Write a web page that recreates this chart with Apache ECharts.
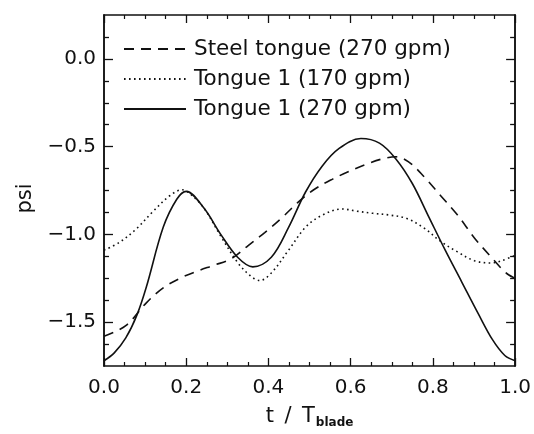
<!DOCTYPE html>
<html>
<head>
<meta charset="utf-8">
<script src="https://cdn.jsdelivr.net/npm/echarts@6/dist/echarts.min.js"></script>
<style>html,body{margin:0;padding:0;background:#fff;}#c{width:534px;height:434px;}</style>
</head>
<body>
<div id="c"></div>
<script>
// Tick values
var xTicks = [0.0, 0.2, 0.4, 0.6, 0.8, 1.0];
var yMajorTicks = [-1.5, -1.0, -0.5, 0.0];
var yMinorTicks = [0.125, -0.125, -0.25, -0.375, -0.625, -0.75, -0.875, -1.125, -1.25, -1.375, -1.625];

// Series names
var seriesNames = ['Steel tongue (270 gpm)', 'Tongue 1 (170 gpm)', 'Tongue 1 (270 gpm)'];

// Steel tongue (270 gpm) - dashed
var tSteel = [0.0, 0.053, 0.103, 0.144, 0.185, 0.226, 0.267, 0.309, 0.35, 0.391, 0.432, 0.473, 0.514, 0.556, 0.597, 0.638, 0.68, 0.71, 0.74, 0.778, 0.819, 0.86, 0.901, 0.942, 0.967, 0.984, 1.0];
var vSteel = [-1.58, -1.52, -1.39, -1.305, -1.25, -1.21, -1.176, -1.14, -1.065, -0.99, -0.907, -0.815, -0.74, -0.685, -0.64, -0.6, -0.568, -0.558, -0.585, -0.67, -0.78, -0.89, -1.02, -1.13, -1.195, -1.23, -1.25];

// Tongue 1 (170 gpm) - dotted
var t170 = [0.0, 0.037, 0.078, 0.119, 0.16, 0.19, 0.21, 0.243, 0.284, 0.325, 0.358, 0.379, 0.407, 0.449, 0.49, 0.531, 0.58, 0.613, 0.654, 0.695, 0.737, 0.778, 0.819, 0.86, 0.901, 0.942, 0.967, 1.0];
var v170 = [-1.09, -1.046, -0.97, -0.87, -0.78, -0.746, -0.77, -0.85, -1.01, -1.16, -1.24, -1.263, -1.22, -1.09, -0.96, -0.89, -0.855, -0.867, -0.88, -0.89, -0.91, -0.963, -1.04, -1.10, -1.15, -1.163, -1.15, -1.12];

// Tongue 1 (270 gpm) - solid
var t270 = [0.0, 0.025, 0.053, 0.08, 0.103, 0.144, 0.177, 0.2, 0.243, 0.284, 0.325, 0.362, 0.407, 0.449, 0.49, 0.531, 0.572, 0.625, 0.67, 0.71, 0.75, 0.79, 0.83, 0.87, 0.91, 0.945, 0.975, 1.0];
var v270 = [-1.72, -1.675, -1.59, -1.46, -1.30, -0.96, -0.80, -0.755, -0.85, -1.0, -1.13, -1.185, -1.13, -0.96, -0.76, -0.61, -0.51, -0.454, -0.48, -0.57, -0.71, -0.9, -1.09, -1.27, -1.45, -1.6, -1.69, -1.72];

function pairs(xs, ys) { return xs.map(function (x, i) { return [x, ys[i]]; }); }

var FONT = 'DejaVu Sans';
var INK = '#111';

function yFmt(v) {
  var a = Math.abs(v).toFixed(1);
  return v < -1e-9 ? '\u2212' + a : a;
}

function yAx(pos, ticks, len, labels) {
  return {
    type: 'value', position: pos, min: -1.75, max: 0.25,
    axisLine: { show: true, onZero: false, lineStyle: { color: INK, width: 1.5 } },
    axisTick: { show: true, inside: true, length: len, customValues: ticks, lineStyle: { color: INK, width: 1.3 } },
    axisLabel: labels ? { show: true, customValues: ticks, formatter: yFmt, fontFamily: FONT, fontSize: 20, color: INK, margin: 8 } : { show: false },
    splitLine: { show: false }
  };
}

function xAx(pos, labels) {
  var a = {
    type: 'value', position: pos, min: 0, max: 1, interval: 0.2,
    axisLine: { show: true, onZero: false, lineStyle: { color: INK, width: 1.5 } },
    axisTick: { show: true, inside: true, length: 8, lineStyle: { color: INK, width: 1.3 } },
    minorTick: { show: true, splitNumber: 4, length: 4, lineStyle: { color: INK, width: 1.2 } },
    axisLabel: labels ? { show: true, fontFamily: FONT, fontSize: 20, color: INK, margin: 12, formatter: function (v) { return v.toFixed(1); } } : { show: false },
    splitLine: { show: false }
  };
  if (labels) {
    a.name = '{a|t\u2002/\u2002T}{b|blade}';
    a.nameLocation = 'middle';
    a.nameGap = 39;
    a.nameTextStyle = {
      rich: {
        a: { fontFamily: FONT, fontSize: 21, color: INK },
        b: { fontFamily: FONT, fontSize: 12, fontWeight: 'bold', color: INK, padding: [12, 0, 0, 1] }
      }
    };
  }
  return a;
}

var chart = echarts.init(document.getElementById('c'), null, { renderer: 'canvas' });
chart.setOption({
  animation: false,
  backgroundColor: '#fff',
  grid: { left: 104, right: 18, top: 15, bottom: 62, containLabel: false },
  legend: {
    orient: 'vertical', left: 118, top: 33,
    itemWidth: 62, itemHeight: 12, itemGap: 8,
    itemStyle: { opacity: 0, borderWidth: 0 },
    textStyle: { fontFamily: FONT, fontSize: 21.5, color: INK, padding: [0, 0, 0, 3] },
    data: seriesNames
  },
  xAxis: [xAx('bottom', true), xAx('top', false)],
  yAxis: [
    (function () { var a = yAx('left', yMajorTicks, 9, true); a.name = 'psi'; a.nameLocation = 'middle'; a.nameGap = 68; a.nameRotate = 90; a.nameTextStyle = { fontFamily: FONT, fontSize: 21, color: INK, padding: [0, 16, 0, 0] }; return a; })(),
    yAx('left', yMinorTicks, 5, false),
    yAx('right', yMajorTicks, 9, false),
    yAx('right', yMinorTicks, 5, false)
  ],
  series: [
    { name: seriesNames[0], type: 'line', smooth: 0.35, symbol: 'none', xAxisIndex: 0, yAxisIndex: 0,
      data: pairs(tSteel, vSteel), lineStyle: { color: INK, width: 1.6, type: [10, 7] }, itemStyle: { color: INK } },
    { name: seriesNames[1], type: 'line', smooth: 0.35, symbol: 'none', xAxisIndex: 0, yAxisIndex: 0,
      data: pairs(t170, v170), lineStyle: { color: INK, width: 1.6, type: [1.6, 3.4] }, itemStyle: { color: INK } },
    { name: seriesNames[2], type: 'line', smooth: 0.35, symbol: 'none', xAxisIndex: 0, yAxisIndex: 0,
      data: pairs(t270, v270), lineStyle: { color: INK, width: 1.6 }, itemStyle: { color: INK } }
  ]
});
</script>
</body>
</html>
